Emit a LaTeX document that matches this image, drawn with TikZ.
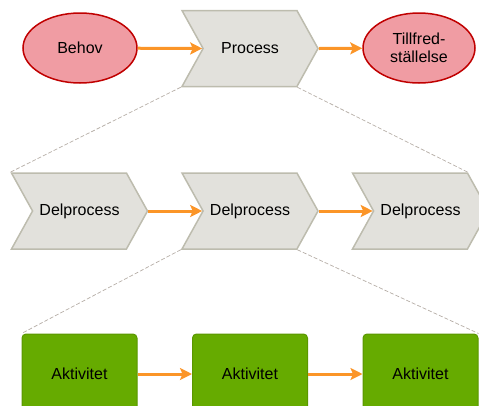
\documentclass[tikz,border=0pt]{standalone}
\usepackage{fontspec}
\setmainfont{Liberation Sans}
\usetikzlibrary{arrows.meta,shapes.symbols,shapes.geometric}

\definecolor{needred}{HTML}{C00000}
\definecolor{needpink}{HTML}{F09CA3}
\definecolor{procfill}{HTML}{E2E1DC}
\definecolor{procgray}{HTML}{BDBCAE}
\definecolor{actgreen}{HTML}{66AB00}
\definecolor{actborder}{HTML}{5A9700}
\definecolor{floworange}{HTML}{FB9528}
\definecolor{zoomgray}{HTML}{B5ADA6}

\begin{document}
\begin{tikzpicture}[
        x=1pt, y=-1pt,
        font=\fontsize{16}{18}\selectfont,
        >={Stealth[length=12pt,width=12pt,inset=2.5pt]},
        goal/.style={ellipse, draw=needred, line width=1.5pt, fill=needpink, align=center, inner sep=0pt, minimum width=114pt, minimum height=70pt},
        proc/.style={signal, signal to=east, signal from=west, signal pointer angle=122, draw=procgray, line width=1.5pt, fill=procfill, inner sep=0pt, minimum width=136pt, minimum height=76pt},
        act/.style={draw=actborder, line width=1pt, fill=actgreen, rounded corners=4pt, minimum width=115pt, minimum height=80pt},
        flow/.style={->, draw=floworange, line width=3pt},
        zoomline/.style={draw=zoomgray, line width=0.7pt, dash pattern=on 4pt off 2pt}
      ]
      \useasboundingbox (0,0) rectangle (479,405);
      \clip (0,0) rectangle (479,405);

      % top level
      \node[goal] (behov) at (80,48) {Behov};
      \node[proc] (process) at (250,48.5) {Process};
      \node[goal, minimum width=112pt] (tillfr) at (419,48) {Tillfred-\\ställelse};

      \draw[flow] (behov) -- (process.west);
      \draw[flow] (process.east) -- (tillfr);

      % sub processes
      \node[proc] (delp1) at (79.5,211) {Delprocess};
      \node[proc] (delp2) at (250,211) {Delprocess};
      \node[proc] (delp3) at (420.5,211) {Delprocess};

      \draw[flow] (delp1.east) -- (delp2.west);
      \draw[flow] (delp2.east) -- (delp3.west);

      % activities
      \node[act] (akt1) at (79.5,374) {Aktivitet};
      \node[act] (akt2) at (250,374) {Aktivitet};
      \node[act] (akt3) at (420.5,374) {Aktivitet};

      \draw[flow] (akt1) -- (akt2);
      \draw[flow] (akt2) -- (akt3);

      \draw[zoomline] (process.south west) -- (delp1.north west);
      \draw[zoomline] (process.south east) -- (delp3.north east);
      \draw[zoomline] (delp2.south west) -- (akt1.north west);
      \draw[zoomline] (delp2.south east) -- (akt3.north east);
    \end{tikzpicture}
\end{document}
